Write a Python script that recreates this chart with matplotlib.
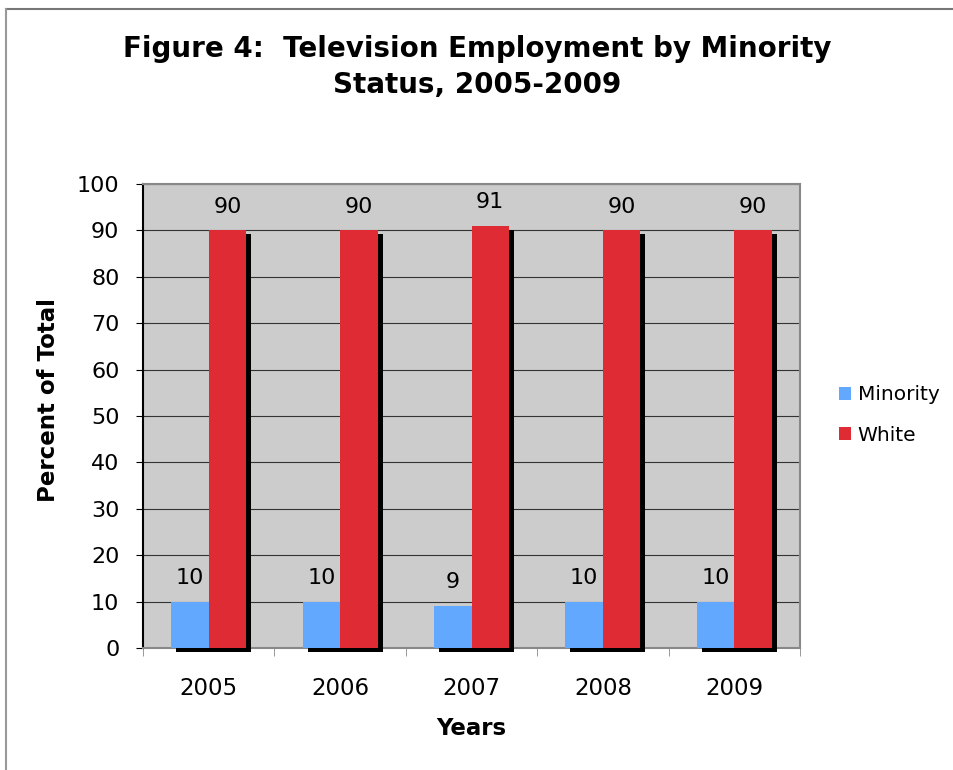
import matplotlib
matplotlib.use('Agg')
import matplotlib.pyplot as plt
import matplotlib.patheffects as pe
from matplotlib.lines import Line2D
from matplotlib.patches import Patch
import numpy as np

years = ['2005', '2006', '2007', '2008', '2009']
minority = [10, 10, 9, 10, 10]
white = [90, 90, 91, 90, 90]

blue = '#63a8ff'
red = '#df2b33'

fig = plt.figure(figsize=(9.54, 7.7), dpi=100)
ax = fig.add_axes([0.1499, 0.1584, 0.6887, 0.6026])
ax.set_facecolor('#cccccc')

x = np.arange(len(years))
w = 0.285
shadow = [pe.SimplePatchShadow(offset=(3.6, -2.9), shadow_rgbFace='black', alpha=1.0), pe.Normal()]

b1 = ax.bar(x - w / 2, minority, w, color=blue, zorder=3, clip_on=False)
b2 = ax.bar(x + w / 2, white, w, color=red, zorder=3, clip_on=False)
for bars in (b1, b2):
    for p in bars:
        p.set_path_effects(shadow)

for bars, vals in ((b1, minority), (b2, white)):
    for p, v in zip(bars, vals):
        ax.annotate(str(v), (p.get_x() + p.get_width() / 2, v), xytext=(0, 10),
                    textcoords='offset points', ha='center', va='bottom', fontsize=16)

ax.set_xlim(-0.5, len(years) - 0.5)
ax.set_ylim(0, 100)
ax.set_yticks(range(0, 101, 10))
ax.yaxis.grid(True, color='#333333', linewidth=0.8, zorder=0)
ax.set_axisbelow(True)

ax.set_xticks(x)
ax.set_xticklabels(years, fontsize=16.5)
ax.tick_params(axis='x', length=0, pad=21)
ax.set_xticks(np.arange(-0.5, len(years), 1), minor=True)
ax.tick_params(axis='x', which='minor', length=6, color='#888888', direction='out')
ax.tick_params(axis='y', labelsize=16, length=5, pad=12, color='black')

ax.spines['left'].set_color('black')
ax.spines['bottom'].set_color('#888888')
ax.spines['top'].set_color('#888888')
ax.spines['right'].set_color('#888888')
for s in ax.spines.values():
    s.set_linewidth(1.5)

ax.set_ylabel('Percent of Total', fontsize=16.5, fontweight='bold')
ax.yaxis.set_label_coords(-0.127, 0.534)
ax.set_xlabel('Years', fontsize=16.5, fontweight='bold', labelpad=12)

fig.text(0.5, 0.955, 'Figure 4:  Television Employment by Minority\nStatus, 2005-2009',
         ha='center', va='top', fontsize=20, fontweight='bold', linespacing=1.4)

handles = [Patch(facecolor=blue), Patch(facecolor=red)]
fig.legend(handles, ['Minority', 'White'], loc='center left', bbox_to_anchor=(0.86, 0.461),
           frameon=False, fontsize=14.5, handlelength=0.6, handleheight=0.6,
           handletextpad=0.35, labelspacing=1.05)

# page border, top and left only
fig.add_artist(Line2D([0.006, 1.0], [0.988, 0.988], color='#777777', linewidth=1.5))
fig.add_artist(Line2D([0.006, 0.006], [0.0, 0.988], color='#999999', linewidth=1.5))

fig.savefig('out.png', dpi=100)
